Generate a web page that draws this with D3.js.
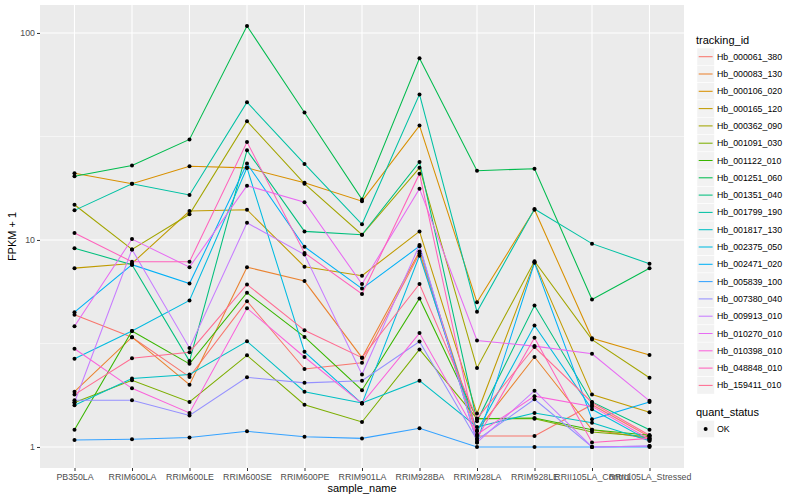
<!DOCTYPE html>
<html>
<head>
<meta charset="utf-8">
<script src="https://cdn.jsdelivr.net/npm/d3@7"></script>
<style>
  body { margin: 0; background: #fff; }
  svg { display: block; font-family: "Liberation Sans", Arial, sans-serif; }
</style>
</head>
<body>
<svg id="chart" width="800" height="500"></svg>
<script>
'use strict';

var samples = ['PB350LA', 'RRIM600LA', 'RRIM600LE', 'RRIM600SE', 'RRIM600PE', 'RRIM901LA',
  'RRIM928BA', 'RRIM928LA', 'RRIM928LE', 'RRII105LA_Control', 'RRII105LA_Stressed'];

var trackingIds = ['Hb_000061_380', 'Hb_000083_130', 'Hb_000106_020', 'Hb_000165_120', 'Hb_000362_090',
  'Hb_001091_030', 'Hb_001122_010', 'Hb_001251_060', 'Hb_001351_040', 'Hb_001799_190',
  'Hb_001817_130', 'Hb_002375_050', 'Hb_002471_020', 'Hb_005839_100', 'Hb_007380_040',
  'Hb_009913_010', 'Hb_010270_010', 'Hb_010398_010', 'Hb_048848_010', 'Hb_159411_010'];

// FPKM + 1, one value per sample
var hb_000061_380 = [4.35, 3.39, 2.18, 5.06, 2.38, 2.55, 8.6, 1.13, 1.13, 1.6, 1.12];
var hb_000083_130 = [1.85, 3.39, 2.0, 7.39, 6.33, 2.70, 8.8, 1.2, 2.72, 1.21, 1.1];
var hb_000106_020 = [21.0, 18.7, 22.7, 22.3, 18.9, 15.4, 35.7, 5.0, 14.0, 3.35, 2.78];
var hb_000165_120 = [7.31, 7.7, 13.8, 14.0, 7.43, 6.72, 11.0, 1.45, 7.8, 1.79, 1.47];
var hb_000362_090 = [14.8, 9.0, 13.3, 37.5, 18.7, 10.6, 22.3, 2.41, 7.9, 3.3, 2.16];
var hb_001091_030 = [1.64, 2.10, 1.65, 2.77, 1.60, 1.32, 2.96, 1.37, 1.37, 1.18, 1.12];
var hb_001122_010 = [1.21, 3.63, 2.52, 5.56, 3.40, 1.88, 5.22, 1.37, 1.38, 1.21, 1.14];
var hb_001251_060 = [20.3, 22.9, 30.6, 108, 41.3, 15.7, 75.5, 21.6, 22.1, 5.16, 7.3];
var hb_001351_040 = [9.13, 7.6, 2.6, 27.1, 11.0, 10.6, 23.8, 1.33, 4.82, 1.65, 1.21];
var hb_001799_190 = [13.9, 18.7, 16.5, 46.3, 23.3, 11.9, 50.5, 4.5, 14.1, 9.6, 7.67];
var hb_001817_130 = [1.59, 2.14, 2.24, 3.24, 1.85, 1.63, 2.09, 1.25, 1.46, 1.31, 1.07];
var hb_002375_050 = [2.67, 3.63, 5.1, 22.3, 2.88, 1.62, 8.4, 1.19, 3.86, 1.52, 1.07];
var hb_002471_020 = [4.48, 7.6, 6.16, 23.4, 9.27, 5.82, 9.33, 1.05, 7.76, 1.36, 1.65];
var hb_005839_100 = [1.08, 1.09, 1.11, 1.19, 1.12, 1.10, 1.23, 1.0, 1.0, 1.0, 1.0];
var hb_007380_040 = [1.68, 1.68, 1.42, 2.17, 2.04, 2.09, 3.23, 1.08, 1.70, 1.0, 1.01];
var hb_009913_010 = [1.64, 9.0, 3.01, 12.1, 8.5, 2.24, 9.45, 1.05, 1.87, 1.0, 1.01];
var hb_010270_010 = [3.83, 10.1, 7.39, 18.3, 15.2, 6.12, 17.7, 3.27, 3.07, 2.82, 1.67];
var hb_010398_010 = [2.98, 1.92, 1.46, 4.68, 2.72, 1.62, 3.55, 1.15, 1.76, 1.57, 1.09];
var hb_048848_010 = [10.8, 7.85, 7.85, 29.7, 8.66, 5.48, 20.9, 1.1, 3.37, 1.05, 1.1];
var hb_159411_010 = [1.79, 2.68, 2.87, 6.1, 3.66, 2.70, 6.13, 1.37, 3.04, 1.64, 1.14];

var seriesValues = [hb_000061_380, hb_000083_130, hb_000106_020, hb_000165_120, hb_000362_090,
  hb_001091_030, hb_001122_010, hb_001251_060, hb_001351_040, hb_001799_190,
  hb_001817_130, hb_002375_050, hb_002471_020, hb_005839_100, hb_007380_040,
  hb_009913_010, hb_010270_010, hb_010398_010, hb_048848_010, hb_159411_010];

var yTicks = [1, 10, 100];
var yMinor = [Math.pow(10, 0.5), Math.pow(10, 1.5)];

// ggplot hue palette, 20 levels
var palette = ['#F8766D', '#EA8331', '#D89000', '#C09B00', '#A3A500', '#7CAE00', '#39B600', '#00BB4E',
  '#00BF7D', '#00C1A3', '#00BFC4', '#00BAE0', '#00B0F6', '#35A2FF', '#9590FF', '#C77CFF',
  '#E76BF3', '#FA62DB', '#FF62BC', '#FF6C91'];

var series = trackingIds.map(function (id, i) {
  return {
    id: id,
    values: seriesValues[i].map(function (v, j) { return { sample: samples[j], value: v }; })
  };
});

var svg = d3.select('#chart');
var panel = { left: 40, right: 684, top: 5, bottom: 468 };

var x = d3.scalePoint().domain(samples).range([panel.left, panel.right]).padding(0.6);

// log scale with 5% expansion in log space, like ggplot
var allValues = d3.merge(seriesValues);
var lo = Math.log10(d3.min(allValues));
var hi = Math.log10(d3.max(allValues));
var pad = (hi - lo) * 0.05;
var y = d3.scaleLog()
  .domain([Math.pow(10, lo - pad), Math.pow(10, hi + pad)])
  .range([panel.bottom, panel.top]);

var color = d3.scaleOrdinal().domain(trackingIds).range(palette);

// panel background + grid
svg.append('rect')
  .attr('x', panel.left).attr('y', panel.top)
  .attr('width', panel.right - panel.left).attr('height', panel.bottom - panel.top)
  .attr('fill', '#EBEBEB');

var grid = svg.append('g').attr('class', 'grid');
grid.selectAll('line.minor').data(yMinor).enter().append('line')
  .attr('class', 'minor')
  .attr('x1', panel.left).attr('x2', panel.right)
  .attr('y1', function (d) { return y(d); }).attr('y2', function (d) { return y(d); })
  .attr('stroke', '#fff').attr('stroke-width', 0.55);
grid.selectAll('line.ymajor').data(yTicks).enter().append('line')
  .attr('class', 'ymajor')
  .attr('x1', panel.left).attr('x2', panel.right)
  .attr('y1', function (d) { return y(d); }).attr('y2', function (d) { return y(d); })
  .attr('stroke', '#fff').attr('stroke-width', 1.1);
grid.selectAll('line.xmajor').data(samples).enter().append('line')
  .attr('class', 'xmajor')
  .attr('x1', function (d) { return x(d); }).attr('x2', function (d) { return x(d); })
  .attr('y1', panel.top).attr('y2', panel.bottom)
  .attr('stroke', '#fff').attr('stroke-width', 1.1);

// lines
var line = d3.line()
  .x(function (d) { return x(d.sample); })
  .y(function (d) { return y(d.value); });

svg.append('g').attr('class', 'lines')
  .selectAll('path').data(series).enter().append('path')
  .attr('d', function (d) { return line(d.values); })
  .attr('fill', 'none')
  .attr('stroke', function (d) { return color(d.id); })
  .attr('stroke-width', 1.05);

// points
var pts = d3.merge(series.map(function (s) { return s.values; }));
svg.append('g').attr('class', 'points')
  .selectAll('circle').data(pts).enter().append('circle')
  .attr('cx', function (d) { return x(d.sample); })
  .attr('cy', function (d) { return y(d.value); })
  .attr('r', 2)
  .attr('fill', '#000');

// axes
var xAxis = d3.axisBottom(x).tickSize(3).tickPadding(3);
var yAxis = d3.axisLeft(y).tickValues(yTicks).tickFormat(d3.format('d')).tickSize(3).tickPadding(2);

var gx = svg.append('g').attr('transform', 'translate(0,' + panel.bottom + ')').call(xAxis);
var gy = svg.append('g').attr('transform', 'translate(' + panel.left + ',0)').call(yAxis);

[gx, gy].forEach(function (g) {
  g.select('.domain').remove();
  g.selectAll('.tick line').attr('stroke', '#333333').attr('stroke-width', 1);
  g.selectAll('.tick text').attr('fill', '#4D4D4D').style('font-size', '8.8px')
    .style('font-family', '"Liberation Sans", Arial, sans-serif');
});

svg.append('text')
  .attr('x', (panel.left + panel.right) / 2).attr('y', 492)
  .attr('text-anchor', 'middle').style('font-size', '11px')
  .text('sample_name');

svg.append('text')
  .attr('transform', 'translate(16,' + ((panel.top + panel.bottom) / 2) + ') rotate(-90)')
  .attr('text-anchor', 'middle').style('font-size', '11px')
  .text('FPKM + 1');

// legend: tracking_id
var legend = svg.append('g').attr('class', 'legend');
var keyX = 697, keySize = 17.3, firstRow = 56.7;

legend.append('text').attr('x', 696).attr('y', 44).style('font-size', '11px').text('tracking_id');

var rows = legend.selectAll('g.row').data(trackingIds).enter().append('g')
  .attr('class', 'row')
  .attr('transform', function (d, i) { return 'translate(0,' + (firstRow + i * keySize) + ')'; });

rows.append('rect')
  .attr('x', keyX).attr('y', -keySize / 2)
  .attr('width', keySize).attr('height', keySize)
  .attr('fill', '#F2F2F2').attr('stroke', '#fff').attr('stroke-width', 0.5);
rows.append('line')
  .attr('x1', keyX + 1.7).attr('x2', keyX + keySize - 1.7)
  .attr('stroke', function (d) { return color(d); }).attr('stroke-width', 1.05);
rows.append('text')
  .attr('x', keyX + keySize + 2.7).attr('dy', '0.35em')
  .style('font-size', '8.8px')
  .text(function (d) { return d; });

// legend: quant_status
legend.append('text').attr('x', 696).attr('y', 416).style('font-size', '11px').text('quant_status');
var ok = legend.append('g').attr('transform', 'translate(0,429)');
ok.append('rect')
  .attr('x', keyX).attr('y', -keySize / 2)
  .attr('width', keySize).attr('height', keySize)
  .attr('fill', '#F2F2F2').attr('stroke', '#fff').attr('stroke-width', 0.5);
ok.append('circle').attr('cx', keyX + keySize / 2).attr('r', 2).attr('fill', '#000');
ok.append('text').attr('x', keyX + keySize + 2.7).attr('dy', '0.35em')
  .style('font-size', '8.8px').text('OK');
</script>
</body>
</html>
